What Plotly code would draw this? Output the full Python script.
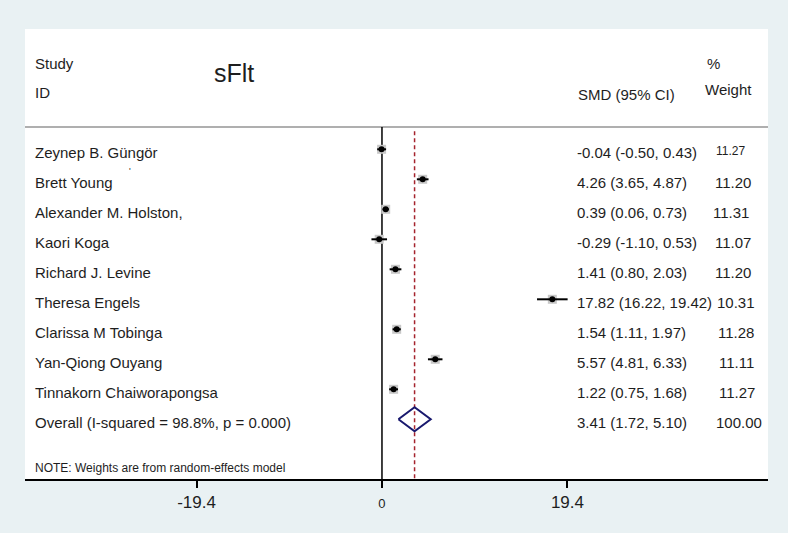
import plotly.graph_objects as go

# ---------------- data ----------------
studies = ["Zeynep B. Güngör", "Brett Young", "Alexander M. Holston,", "Kaori Koga",
           "Richard J. Levine", "Theresa Engels", "Clarissa M Tobinga",
           "Yan-Qiong Ouyang", "Tinnakorn Chaiworapongsa"]
smd = [-0.04, 4.26, 0.39, -0.29, 1.41, 17.82, 1.54, 5.57, 1.22]
ci_low = [-0.50, 3.65, 0.06, -1.10, 0.80, 16.22, 1.11, 4.81, 0.75]
ci_high = [0.43, 4.87, 0.73, 0.53, 2.03, 19.42, 1.97, 6.33, 1.68]
weights = [11.27, 11.20, 11.31, 11.07, 11.20, 10.31, 11.28, 11.11, 11.27]
overall_label = "Overall (I-squared = 98.8%, p = 0.000)"
overall_smd = 3.41
overall_low = 1.72
overall_high = 5.10
overall_weight = 100.00
tick_vals = [-19.4, 0, 19.4]
tick_text = ["-19.4", "0", "19.4"]
title_text = "sFlt"
note_text = "NOTE: Weights are from random-effects model"

# ---------------- layout helpers ----------------
W, H = 788, 533
L, R, T, B = 25, 20, 29, 54
X_RANGE = [-37.34, 40.38]
Y_RANGE = [10.99, -4.01]   # row units, reversed
FONT = "Liberation Sans, Arial, sans-serif"
TXT = "#1e1e1e"
BG = "rgb(233,241,243)"

def px2paper(px):
    return (px - L) / (W - L - R)

rows = list(range(len(studies)))
overall_row = len(studies)

fig = go.Figure()

# weighted gray boxes
fig.add_trace(go.Scatter(
    x=smd, y=rows, mode="markers",
    marker=dict(symbol="square", size=9, color="rgb(200,200,200)", line=dict(width=0)),
    hoverinfo="skip", showlegend=False))

# CI lines + point estimates
fig.add_trace(go.Scatter(
    x=smd, y=rows, mode="markers",
    marker=dict(symbol="circle", size=6, color="black"),
    error_x=dict(type="data", symmetric=False,
                 array=[h - m for h, m in zip(ci_high, smd)],
                 arrayminus=[m - l for m, l in zip(smd, ci_low)],
                 color="black", thickness=2, width=0),
    hoverinfo="skip", showlegend=False))

# overall diamond
dh = 0.4
fig.add_trace(go.Scatter(
    x=[overall_low, overall_smd, overall_high, overall_smd, overall_low],
    y=[overall_row, overall_row - dh, overall_row, overall_row + dh, overall_row],
    mode="lines", line=dict(color="rgb(25,25,110)", width=2),
    hoverinfo="skip", showlegend=False))

shapes = [
    # header separator
    dict(type="line", xref="paper", yref="y", x0=0, x1=1, y0=-0.74, y1=-0.74,
         line=dict(color="rgb(175,175,175)", width=2), layer="below"),
    # null line
    dict(type="line", xref="x", yref="y", x0=0, x1=0, y0=-0.74, y1=Y_RANGE[0],
         line=dict(color="black", width=1.5), layer="below"),
    # overall dashed line
    dict(type="line", xref="x", yref="y", x0=overall_smd, x1=overall_smd,
         y0=-0.6, y1=Y_RANGE[0],
         line=dict(color="rgb(165,35,45)", width=1.5, dash="4px,3px"), layer="below"),
]

ann = []
def text(px, y, s, size=15, anchor="left"):
    ann.append(dict(x=px2paper(px), xref="paper", y=y, yref="y", text=s,
                    showarrow=False, xanchor=anchor, yanchor="middle",
                    font=dict(family=FONT, size=size, color=TXT)))

# headers
text(33, -2.87, "Study")
text(33, -1.89, "ID")
text(234, -2.55, title_text, size=25, anchor="center")
text(576, -1.84, "SMD (95% CI)")
text(713, -2.87, "%", anchor="center")
text(728, -1.98, "Weight", anchor="center")

weight_x = [714, 712.7, 710.7, 712.7, 713, 714.7, 715.7, 716.7, 716.7]
for i, s in enumerate(studies):
    text(33, i + 0.1, s)
    text(575, i + 0.1, f"{smd[i]:.2f} ({ci_low[i]:.2f}, {ci_high[i]:.2f})")
    if i == 0:
        text(weight_x[i], i + 0.06, f"{weights[i]:.2f}", size=12)
    else:
        text(weight_x[i], i + 0.1, f"{weights[i]:.2f}")

# stray mark next to "Brett Young"
text(127, 0.72, "'", size=9)

text(33, overall_row + 0.1, overall_label)
text(575, overall_row + 0.1, f"{overall_smd:.2f} ({overall_low:.2f}, {overall_high:.2f})")
text(713.5, overall_row + 0.1, f"{overall_weight:.2f}")
text(33, 10.62, note_text, size=12)

fig.update_layout(
    width=W, height=H,
    margin=dict(l=L, r=R, t=T, b=B),
    paper_bgcolor=BG, plot_bgcolor="white",
    shapes=shapes, annotations=ann,
    xaxis=dict(range=X_RANGE, showgrid=False, zeroline=False,
               showline=True, linecolor="black", linewidth=2,
               tickmode="array", tickvals=tick_vals,
               ticktext=[t if t != "0" else '<span style="font-size:13px">0</span>' for t in tick_text],
               ticks="outside", ticklen=7, tickwidth=1.5, tickcolor="black",
               tickfont=dict(family=FONT, size=17, color=TXT), fixedrange=True),
    yaxis=dict(range=Y_RANGE, showgrid=False, zeroline=False, showline=False,
               showticklabels=False, ticks="", fixedrange=True),
)

fig.write_html("out.html", config={"displayModeBar": False},
               post_script="document.body.style.margin='0';document.body.style.overflow='hidden';")
